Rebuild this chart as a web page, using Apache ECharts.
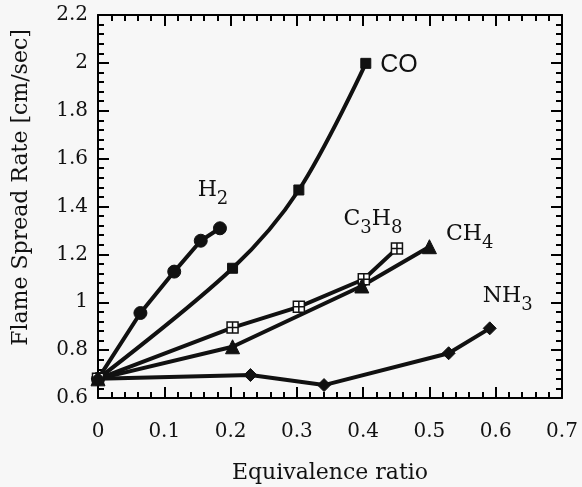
<!DOCTYPE html>
<html>
<head>
<meta charset="utf-8">
<script src="https://cdn.jsdelivr.net/npm/echarts@6/dist/echarts.min.js"></script>
<style>
html, body { margin: 0; padding: 0; background: #f7f7f7; }
#main { width: 582px; height: 487px; }
</style>
</head>
<body>
<div id="main"></div>
<script>
// values: [equivalence ratio, flame spread rate]
var h2 = [[0, 0.68], [0.064, 0.955], [0.115, 1.128], [0.155, 1.257], [0.184, 1.309]];
var co = [[0, 0.68], [0.203, 1.142], [0.303, 1.469], [0.404, 1.998]];
var c3h8 = [[0, 0.68], [0.203, 0.894], [0.303, 0.981], [0.401, 1.096], [0.451, 1.225]];
var ch4 = [[0, 0.68], [0.203, 0.814], [0.398, 1.068], [0.50, 1.232]];
var nh3 = [[0, 0.68], [0.23, 0.696], [0.341, 0.654], [0.529, 0.787], [0.591, 0.891]];

var xTicks = { min: 0, max: 0.7, interval: 0.1 };
var yTicks = { min: 0.6, max: 2.2, interval: 0.2 };

var serif = 'DejaVu Serif';
var crossBox = 'path://M0,0H10V10H0Z M5,0V10 M0,5H10';

function axisCommon(show) {
	return {
		axisLine: { show: true, onZero: false, lineStyle: { color: '#000', width: 2 } },
		axisTick: { inside: true, length: 11, lineStyle: { color: '#000', width: 2 } },
		minorTick: { show: true, splitNumber: 5, length: 6, lineStyle: { color: '#000', width: 2 } },
		splitLine: { show: false },
		axisLabel: { show: show, color: '#111', fontFamily: serif, fontSize: 20 }
	};
}

function lastLabel(data, label) {
	//只给最后一个点加标签
	return data.map(function (d, i) {
		if (i == data.length - 1) return { value: d, label: label };
		return { value: d };
	});
}

var rich = {
	n: { fontFamily: serif, fontSize: 22, color: '#111' },
	s: { fontFamily: serif, fontSize: 18, color: '#111', padding: [18, 0, 0, 0] }
};

var xBottom = Object.assign({ type: 'value', position: 'bottom' }, xTicks, axisCommon(true));
xBottom.axisLabel.margin = 24;
xBottom.name = 'Equivalence ratio';
xBottom.nameLocation = 'middle';
xBottom.nameGap = 64;
xBottom.nameTextStyle = { fontFamily: serif, fontSize: 22, color: '#111' };
var xTop = Object.assign({ type: 'value', position: 'top' }, xTicks, axisCommon(false));

var yLeft = Object.assign({ type: 'value', position: 'left' }, yTicks, axisCommon(true));
yLeft.axisLabel.margin = 10;
yLeft.name = 'Flame Spread Rate [cm/sec]';
yLeft.nameLocation = 'middle';
yLeft.nameGap = 66;
//标题整体往上挪一点
yLeft.nameTextStyle = { fontFamily: serif, fontSize: 22, color: '#111', padding: [0, 0, 0, 38] };
var yRight = Object.assign({ type: 'value', position: 'right' }, yTicks, axisCommon(false));

function line(name, data, symbol, size, label, smooth) {
	return {
		name: name,
		type: 'line',
		data: lastLabel(data, label),
		smooth: smooth || false,
		symbol: symbol,
		symbolSize: size,
		showAllSymbol: true,
		lineStyle: { color: '#111', width: 4 },
		itemStyle: symbol == crossBox
			? { color: '#fff', borderColor: '#111', borderWidth: 1.5 }
			: { color: '#111', borderColor: '#111', borderWidth: 1 },
		z: 3
	};
}

var option = {
	backgroundColor: '#f7f7f7',
	animation: false,
	grid: { left: 98, right: 20, top: 15, bottom: 89, outerBoundsMode: 'none', containLabel: false },
	xAxis: [xBottom, xTop],
	yAxis: [yLeft, yRight],
	series: [
		line('H2', h2, 'circle', 13, {
			show: true, position: 'top', offset: [-7, -8], formatter: '{n|H}{s|2}', rich: rich
		}),
		line('CO', co, 'rect', 10, {
			show: true, position: 'right', offset: [4, 2], formatter: 'CO',
			fontFamily: 'Liberation Sans', fontSize: 25, color: '#111'
		}, 0.35),
		line('C3H8', c3h8, crossBox, 11, {
			show: true, position: 'top', offset: [-24, 0], formatter: '{n|C}{s|3}{n|H}{s|8}', rich: rich
		}),
		line('CH4', ch4, 'triangle', 14, {
			show: true, position: 'right', offset: [4, -12], formatter: '{n|CH}{s|4}', rich: rich
		}),
		line('NH3', nh3, 'diamond', 13, {
			show: true, position: 'top', offset: [18, -2], formatter: '{n|NH}{s|3}', rich: rich
		})
	]
};

var myChart = echarts.init(document.getElementById('main'));
myChart.setOption(option);
</script>
</body>
</html>
